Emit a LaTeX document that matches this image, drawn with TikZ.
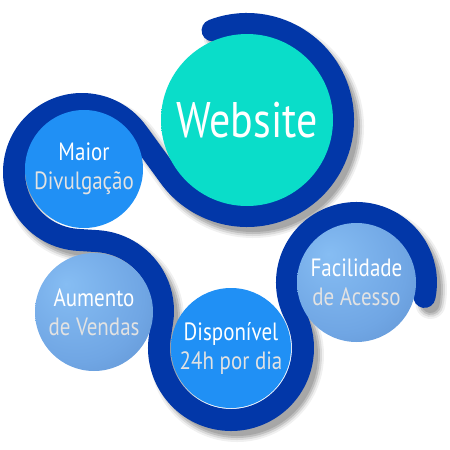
\documentclass[tikz,border=0pt]{standalone}
\usepackage{fontspec}
\setmainfont{PT Sans}[FakeStretch=0.84]
\usetikzlibrary{calc}
\definecolor{bandblue}{HTML}{0237A8}
\definecolor{wA}{HTML}{0ADDC9}
\definecolor{wB}{HTML}{09B8A6}
\definecolor{wC}{HTML}{0A8479}
\definecolor{bA}{HTML}{2090F5}
\definecolor{bB}{HTML}{1F78D6}
\definecolor{bC}{HTML}{1F4F92}
\definecolor{lA}{HTML}{86BDF3}
\definecolor{lB}{HTML}{70A6E4}
\definecolor{lC}{HTML}{5686C4}
\definecolor{lD}{HTML}{3F6499}
\definecolor{txtgray}{HTML}{E2E2E2}
\pgfdeclareradialshading{sphW}{\pgfpoint{-12bp}{12bp}}{color(0bp)=(wA); color(44bp)=(wA); color(57bp)=(wB); color(68bp)=(wC)}
\pgfdeclareradialshading{sphB}{\pgfpoint{-12bp}{12bp}}{color(0bp)=(bA); color(40bp)=(bA); color(56bp)=(bB); color(68bp)=(bC)}
\pgfdeclareradialshading{sphL}{\pgfpoint{-12bp}{12bp}}{color(0bp)=(lA); color(28bp)=(lB); color(54bp)=(lC); color(68bp)=(lD)}
\tikzset{
  band/.style={draw=bandblue, line width=22pt, line cap=round, line join=round},
  bandshadow/.style={draw=black, line cap=round, line join=round},
  sphere/.style={circle, inner sep=0pt, shade, text=white, align=center,
     font=\fontsize{25}{29}\selectfont},
  bandpath/.style={insert path={
    ($(bW)+(-111:96)$) arc[start angle=-111, end angle=143.95, radius=96]
    -- ($(bM)+(-36.05:68)$) arc[start angle=-36.05, end angle=-266.31, radius=68]
    -- ($(bA)+(-86.31:70)$) arc[start angle=-86.31, end angle=8.69, radius=70]
    -- ($(bD)+(188.69:72)$) arc[start angle=188.69, end angle=-25.9, radius=72]
    -- ($(bF)+(154.1:69.5)$) arc[start angle=154.1, end angle=372, radius=69.5]}}
}
\begin{document}
\begin{tikzpicture}[x=1pt, y=-1pt]
\useasboundingbox (0,0) rectangle (450,450);
\coordinate (bW) at (247,120);
\coordinate (bM) at (82,172);
\coordinate (bA) at (93,311);
\coordinate (bD) at (231,348);
\coordinate (bF) at (356.5,282.5);
% shadow of the band
\begin{scope}[transform canvas={shift={(6pt,-7pt)}}]
  \draw[bandshadow, line width=30pt, opacity=0.06, bandpath];
  \draw[bandshadow, line width=26pt, opacity=0.09, bandpath];
  \draw[bandshadow, line width=22pt, opacity=0.13, bandpath];
  \draw[bandshadow, line width=18pt, opacity=0.12, bandpath];
\end{scope}
% band
\draw[band, bandpath];
% spheres
\node[sphere, minimum size=172pt, shading=sphW, font=\fontsize{50}{56}\selectfont] (W) at (247,120) {Website};
\node[sphere, minimum size=118pt, shading=sphB] (M) at (84,169) {Maior\\\textcolor{txtgray}{Divulgação}};
\node[sphere, minimum size=118pt, shading=sphL] (A) at (94,312) {Aumento\\\textcolor{txtgray}{de Vendas}};
\node[sphere, minimum size=120pt, shading=sphB] (D) at (231,348) {Disponível\\\textcolor{txtgray}{24h por dia}};
\node[sphere, minimum size=119pt, shading=sphL] (F) at (356.5,282.5) {Facilidade\\\textcolor{txtgray}{de Acesso}};
\end{tikzpicture}
\end{document}
